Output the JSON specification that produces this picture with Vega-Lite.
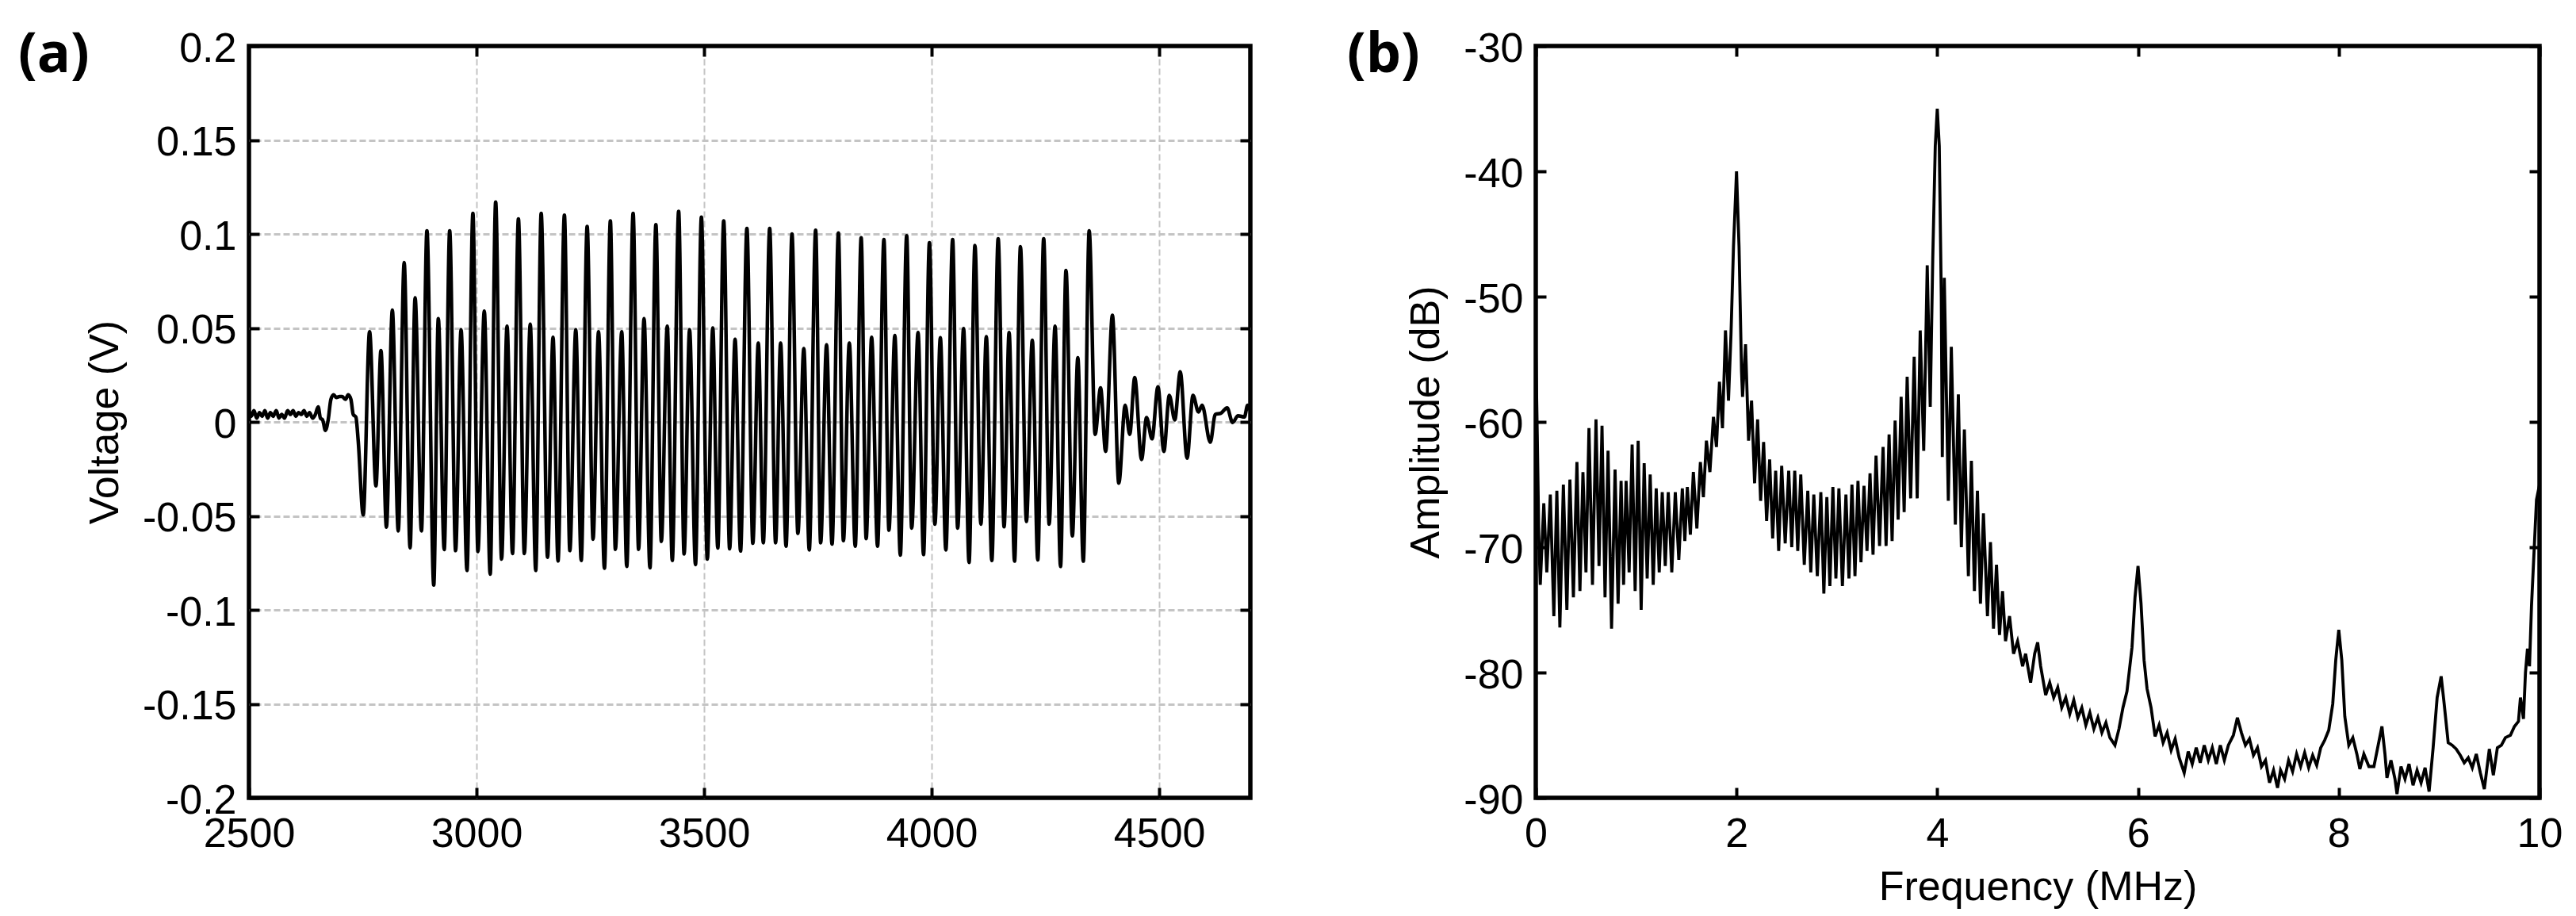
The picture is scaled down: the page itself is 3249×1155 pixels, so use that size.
{
  "$schema": "https://vega.github.io/schema/vega-lite/v6.json",
  "background": "white",
  "autosize": {"type": "pad"},
  "padding": {"left": 20, "top": 32, "right": 20, "bottom": 0},
  "bounds": "flush",
  "spacing": 360,
  "config": {
    "view": {"stroke": "black", "strokeWidth": 5.5},
    "font": "Liberation Sans",
    "axis": {
      "domain": false,
      "labelFont": "Liberation Sans",
      "labelFontSize": 52,
      "labelColor": "black",
      "titleFont": "Liberation Sans",
      "titleFontSize": 52,
      "titleFontWeight": "normal",
      "titleColor": "black",
      "tickColor": "black",
      "tickSize": -13,
      "tickWidth": 4,
      "labelPadding": 29,
      "labelFlush": false,
      "labelOverlap": false,
      "labelBound": false,
      "grid": false
    },
    "axisX": {"labelPadding": 33},
    "title": {"font": "Open Sans", "fontSize": 70, "fontWeight": "bold", "color": "black"}
  },
  "datasets": {
    "wave": [
      {"t":2500,"v":0.006},{"t":2505,"v":0.003},{"t":2511,"v":0.006},{"t":2517,"v":0.002},{"t":2523,"v":0.005},{"t":2529,"v":0.003},{"t":2535,"v":0.006},{"t":2541,"v":0.002},{"t":2547,"v":0.005},{"t":2553,"v":0.003},{"t":2560,"v":0.006},{"t":2566,"v":0.002},{"t":2572,"v":0.004},{"t":2578,"v":0.002},{"t":2585,"v":0.006},{"t":2591,"v":0.004},{"t":2597,"v":0.006},{"t":2603,"v":0.003},{"t":2609,"v":0.005},{"t":2615,"v":0.004},{"t":2621,"v":0.006},{"t":2627,"v":0.003},{"t":2633,"v":0.005},{"t":2640,"v":0.002},{"t":2646,"v":0.004},{"t":2652,"v":0.008},{"t":2657,"v":0.002},{"t":2662,"v":0.001},{"t":2668,"v":-0.0045},{"t":2674,"v":0.001},{"t":2680,"v":0.012},{"t":2686,"v":0.0145},{"t":2692,"v":0.013},{"t":2699,"v":0.0135},{"t":2705,"v":0.0135},{"t":2712,"v":0.012},{"t":2718,"v":0.0145},{"t":2724,"v":0.012},{"t":2729,"v":0.004},{"t":2735,"v":0.0025},{"t":2740,"v":-0.01},
      {"t":2751,"v":-0.0495},{"t":2765,"v":0.048},{"t":2779,"v":-0.034},{"t":2790,"v":0.038},{"t":2802,"v":-0.056},{"t":2815,"v":0.0595},{"t":2828,"v":-0.058},{"t":2841,"v":0.0848},{"t":2854,"v":-0.067},{"t":2865,"v":0.066},{"t":2879,"v":-0.058},{"t":2891,"v":0.1017},{"t":2906,"v":-0.0868},{"t":2916,"v":0.055},{"t":2929,"v":-0.0679},{"t":2941,"v":0.1017},{"t":2954,"v":-0.0685},{"t":2966,"v":0.049},{"t":2979,"v":-0.079},{"t":2992,"v":0.111},{"t":3003,"v":-0.069},{"t":3017,"v":0.059},{"t":3030,"v":-0.081},{"t":3042,"v":0.117},{"t":3055,"v":-0.073},{"t":3067,"v":0.051},{"t":3079,"v":-0.07},{"t":3092,"v":0.108},{"t":3105,"v":-0.07},{"t":3118,"v":0.052},{"t":3130,"v":-0.079},{"t":3142,"v":0.111},{"t":3156,"v":-0.072},{"t":3168,"v":0.045},{"t":3179,"v":-0.074},
      {"t":3193,"v":0.11},{"t":3205,"v":-0.0685},{"t":3218,"v":0.049},{"t":3230,"v":-0.0737},{"t":3243,"v":0.104},{"t":3256,"v":-0.0624},{"t":3268,"v":0.048},{"t":3281,"v":-0.0779},{"t":3294,"v":0.107},{"t":3305,"v":-0.0678},{"t":3319,"v":0.048},{"t":3330,"v":-0.0769},{"t":3344,"v":0.111},{"t":3356,"v":-0.0678},{"t":3368,"v":0.055},{"t":3381,"v":-0.0776},{"t":3394,"v":0.105},{"t":3406,"v":-0.0636},{"t":3419,"v":0.051},{"t":3430,"v":-0.0737},{"t":3444,"v":0.112},{"t":3456,"v":-0.0703},{"t":3468,"v":0.049},{"t":3481,"v":-0.0759},{"t":3494,"v":0.109},{"t":3507,"v":-0.073},{"t":3519,"v":0.05},{"t":3530,"v":-0.0671},{"t":3543,"v":0.107},{"t":3556,"v":-0.0675},{"t":3568,"v":0.044},{"t":3580,"v":-0.0687},{"t":3594,"v":0.103},{"t":3607,"v":-0.0646},{"t":3619,"v":0.042},{"t":3630,"v":-0.0643},{"t":3644,"v":0.103},{"t":3657,"v":-0.0643},{"t":3668,"v":0.042},{"t":3680,"v":-0.0661},{"t":3693,"v":0.1},{"t":3706,"v":-0.0593},{"t":3719,"v":0.039},{"t":3731,"v":-0.0681},{"t":3745,"v":0.102},{"t":3756,"v":-0.0643},{"t":3769,"v":0.041},{"t":3781,"v":-0.065},{"t":3795,"v":0.1005},{"t":3806,"v":-0.0632},{"t":3819,"v":0.042},{"t":3832,"v":-0.0661},{"t":3845,"v":0.098},{"t":3856,"v":-0.0621},{"t":3868,"v":0.045},{"t":3881,"v":-0.0661},{"t":3895,"v":0.097},{"t":3906,"v":-0.0576},{"t":3919,"v":0.046},{"t":3931,"v":-0.0709},{"t":3945,"v":0.099},{"t":3956,"v":-0.0565},
      {"t":3970,"v":0.0476},{"t":3982,"v":-0.0706},{"t":3995,"v":0.0954},{"t":4007,"v":-0.0544},{"t":4019,"v":0.0448},{"t":4031,"v":-0.0681},{"t":4046,"v":0.097},{"t":4057,"v":-0.0565},{"t":4070,"v":0.0497},{"t":4082,"v":-0.0748},{"t":4095,"v":0.0939},{"t":4108,"v":-0.0544},{"t":4120,"v":0.0454},{"t":4132,"v":-0.0737},{"t":4146,"v":0.0975},{"t":4159,"v":-0.0558},{"t":4170,"v":0.0476},{"t":4182,"v":-0.0741},{"t":4195,"v":0.0933},{"t":4208,"v":-0.053},{"t":4221,"v":0.0435},{"t":4233,"v":-0.0734},{"t":4246,"v":0.0975},{"t":4258,"v":-0.0544},{"t":4271,"v":0.051},{"t":4283,"v":-0.0769},{"t":4295,"v":0.0806},{"t":4309,"v":-0.0607},{"t":4321,"v":0.0342},{"t":4333,"v":-0.0741},{"t":4346,"v":0.1017},
      {"t":4359,"v":-0.0066},{"t":4371,"v":0.0181},{"t":4382,"v":-0.0157},{"t":4397,"v":0.0567},{"t":4411,"v":-0.0326},{"t":4425,"v":0.0089},{"t":4435,"v":-0.0066},{"t":4446,"v":0.0236},{"t":4461,"v":-0.02},{"t":4472,"v":0.0023},{"t":4484,"v":-0.009},{"t":4497,"v":0.0187},{"t":4510,"v":-0.0157},{"t":4522,"v":0.0141},{"t":4534,"v":0.0011},{"t":4546,"v":0.0267},{"t":4561,"v":-0.0193},{"t":4574,"v":0.0141},{"t":4586,"v":0.0053},{"t":4594,"v":0.0089},{"t":4612,"v":-0.0108},{"t":4623,"v":0.004},{"t":4635,"v":0.0046},{"t":4649,"v":0.0075},{"t":4661,"v":-0.0003},{"t":4673,"v":0.0033},{"t":4687,"v":0.0026},{"t":4694,"v":0.0089},{"t":4700,"v":0.006}
    ],
    "spec": [
      {"f":0,"a":-54},{"f":0.015,"a":-61},{"f":0.03,"a":-69},{"f":0.045,"a":-73},{"f":0.08,"a":-66.5},{"f":0.11,"a":-72},{"f":0.145,"a":-65.8},{"f":0.18,"a":-75.5},{"f":0.21,"a":-65.5},{"f":0.24,"a":-76.4},{"f":0.275,"a":-65},{"f":0.31,"a":-75},{"f":0.34,"a":-64.6},{"f":0.375,"a":-74},{"f":0.41,"a":-63.2},{"f":0.44,"a":-73.5},{"f":0.47,"a":-64},{"f":0.5,"a":-72},{"f":0.53,"a":-60.5},{"f":0.565,"a":-73},{"f":0.6,"a":-59.8},{"f":0.63,"a":-71.5},{"f":0.66,"a":-60.3},{"f":0.69,"a":-74},{"f":0.72,"a":-62.3},{"f":0.755,"a":-76.5},{"f":0.79,"a":-63.8},{"f":0.82,"a":-74.5},{"f":0.85,"a":-64.7},{"f":0.875,"a":-73},{"f":0.9,"a":-64.7},{"f":0.93,"a":-72},{"f":0.96,"a":-61.8},{"f":0.99,"a":-73.5},{"f":1.02,"a":-61.5},{"f":1.05,"a":-75},{"f":1.08,"a":-63.3},{"f":1.11,"a":-72.5},{"f":1.14,"a":-64.2},{"f":1.17,"a":-73},{"f":1.2,"a":-65.3},{"f":1.23,"a":-72},{"f":1.26,"a":-65.6},{"f":1.29,"a":-71.5},{"f":1.32,"a":-65.6},{"f":1.355,"a":-72},{"f":1.39,"a":-65.6},{"f":1.425,"a":-71},{"f":1.46,"a":-65.3},{"f":1.485,"a":-69.5},{"f":1.51,"a":-65.2},{"f":1.54,"a":-69},{"f":1.57,"a":-64},{"f":1.605,"a":-68.5},{"f":1.64,"a":-63.2},{"f":1.67,"a":-66},{"f":1.7,"a":-61.5},{"f":1.735,"a":-64},{"f":1.77,"a":-59.6},{"f":1.8,"a":-62},{"f":1.83,"a":-56.8},{"f":1.86,"a":-60.5},{"f":1.89,"a":-52.7},{"f":1.92,"a":-58.3},{"f":1.945,"a":-53},{"f":1.97,"a":-46},{"f":2,"a":-40},{"f":2.025,"a":-46},{"f":2.05,"a":-56},{"f":2.06,"a":-58},
      {"f":2.09,"a":-53.8},{"f":2.12,"a":-61.5},{"f":2.15,"a":-58.3},{"f":2.18,"a":-64.9},{"f":2.21,"a":-59.8},{"f":2.24,"a":-66.3},{"f":2.27,"a":-61.6},{"f":2.3,"a":-67.9},{"f":2.33,"a":-63},{"f":2.36,"a":-69.3},{"f":2.39,"a":-63.9},{"f":2.42,"a":-70.3},{"f":2.45,"a":-63.5},{"f":2.485,"a":-69.7},{"f":2.52,"a":-63.9},{"f":2.55,"a":-70},{"f":2.58,"a":-63.9},{"f":2.61,"a":-70.3},{"f":2.64,"a":-64.2},{"f":2.675,"a":-71.4},{"f":2.71,"a":-65.5},{"f":2.74,"a":-72},{"f":2.77,"a":-65.8},{"f":2.805,"a":-72.3},{"f":2.84,"a":-65.6},{"f":2.87,"a":-73.7},{"f":2.9,"a":-66},{"f":2.93,"a":-73.1},{"f":2.96,"a":-65.2},{"f":2.99,"a":-72.5},{"f":3.02,"a":-65.3},{"f":3.055,"a":-73.1},{"f":3.09,"a":-65.8},{"f":3.12,"a":-72.5},{"f":3.15,"a":-65},{"f":3.18,"a":-72.3},{"f":3.21,"a":-64.7},{"f":3.24,"a":-71.2},{"f":3.27,"a":-65.1},{"f":3.3,"a":-70.3},{"f":3.33,"a":-64.1},{"f":3.36,"a":-70.6},{"f":3.39,"a":-62.7},{"f":3.425,"a":-69.9},{"f":3.46,"a":-62},{"f":3.49,"a":-69.9},{"f":3.52,"a":-61},{"f":3.55,"a":-69.5},{"f":3.58,"a":-59.9},{"f":3.61,"a":-67.8},{"f":3.64,"a":-58},{"f":3.67,"a":-67.2},{"f":3.7,"a":-56.4},{"f":3.735,"a":-66.1},{"f":3.77,"a":-54.8},{"f":3.8,"a":-66.1},{"f":3.83,"a":-52.7},{"f":3.865,"a":-62.3},{"f":3.9,"a":-47.5},{"f":3.93,"a":-58.8},{"f":3.955,"a":-47},{"f":3.98,"a":-38},{"f":4,"a":-35},{"f":4.02,"a":-38},{"f":4.04,"a":-50},{"f":4.05,"a":-62.8},
      {"f":4.07,"a":-48.5},{"f":4.11,"a":-66.3},{"f":4.14,"a":-54},{"f":4.18,"a":-68.2},{"f":4.21,"a":-57.8},{"f":4.24,"a":-70},{"f":4.27,"a":-60.6},{"f":4.31,"a":-72.3},{"f":4.34,"a":-63.1},{"f":4.37,"a":-73.5},{"f":4.4,"a":-65.5},{"f":4.43,"a":-74.5},{"f":4.46,"a":-67.3},{"f":4.5,"a":-75.5},{"f":4.53,"a":-69.6},{"f":4.56,"a":-76.5},{"f":4.59,"a":-71.4},{"f":4.62,"a":-77},{"f":4.65,"a":-73.5},{"f":4.68,"a":-77.5},{"f":4.72,"a":-75.5},{"f":4.76,"a":-78.5},{"f":4.8,"a":-77.5},{"f":4.85,"a":-79.5},{"f":4.88,"a":-78.5},{"f":4.93,"a":-80.8},{"f":4.97,"a":-78.5},{"f":5,"a":-77.6},{"f":5.03,"a":-79.5},{"f":5.08,"a":-81.8},{"f":5.12,"a":-80.8},{"f":5.16,"a":-82},{"f":5.2,"a":-81.2},{"f":5.24,"a":-82.8},{"f":5.28,"a":-82},{"f":5.32,"a":-83.3},{"f":5.36,"a":-82.2},{"f":5.4,"a":-83.6},{"f":5.44,"a":-82.8},{"f":5.48,"a":-84.2},{"f":5.52,"a":-83.2},{"f":5.56,"a":-84.5},{"f":5.6,"a":-83.6},{"f":5.64,"a":-84.8},{"f":5.68,"a":-84},{"f":5.72,"a":-85.2},{"f":5.77,"a":-85.8},{"f":5.81,"a":-84.5},{"f":5.85,"a":-82.8},{"f":5.89,"a":-81.5},{"f":5.94,"a":-78},{"f":5.97,"a":-74},{"f":6,"a":-71.5},{"f":6.03,"a":-74.5},{"f":6.06,"a":-79},{"f":6.09,"a":-81.3},{"f":6.13,"a":-82.8},{"f":6.17,"a":-85.1},{"f":6.21,"a":-84.2},{"f":6.25,"a":-85.6},{"f":6.29,"a":-84.8},{"f":6.33,"a":-86.2},{"f":6.37,"a":-85.3},{"f":6.41,"a":-86.8},{"f":6.46,"a":-88},{"f":6.5,"a":-86.3},{"f":6.54,"a":-87.3},{"f":6.58,"a":-86},{"f":6.62,"a":-87.2},{"f":6.66,"a":-85.8},{"f":6.7,"a":-87},{"f":6.74,"a":-86},{"f":6.78,"a":-87.3},{"f":6.82,"a":-85.8},{"f":6.86,"a":-87},{"f":6.9,"a":-85.8},{"f":6.95,"a":-85},{"f":6.99,"a":-83.6},{"f":7.03,"a":-84.8},{"f":7.07,"a":-85.8},{"f":7.11,"a":-85.3},{"f":7.15,"a":-86.6},{"f":7.19,"a":-86},{"f":7.23,"a":-87.5},{"f":7.27,"a":-87},{"f":7.31,"a":-88.8},{"f":7.35,"a":-87.8},{"f":7.39,"a":-89.2},{"f":7.42,"a":-87.8},{"f":7.46,"a":-88.5},{"f":7.5,"a":-87},{"f":7.54,"a":-87.9},{"f":7.58,"a":-86.5},{"f":7.62,"a":-87.5},{"f":7.66,"a":-86.4},{"f":7.7,"a":-87.6},{"f":7.74,"a":-86.6},{"f":7.78,"a":-87.4},{"f":7.82,"a":-86},{"f":7.86,"a":-85.4},{"f":7.9,"a":-84.6},{"f":7.94,"a":-82.5},{"f":7.97,"a":-79},{"f":8,"a":-76.6},{"f":8.03,"a":-79},{"f":8.06,"a":-83.5},{"f":8.1,"a":-85.8},{"f":8.14,"a":-85.2},{"f":8.18,"a":-86.5},{"f":8.21,"a":-87.7},{"f":8.25,"a":-86.5},{"f":8.3,"a":-87.5},{"f":8.35,"a":-87.5},{"f":8.4,"a":-85.5},{"f":8.43,"a":-84.3},{"f":8.46,"a":-86.5},{"f":8.48,"a":-88.4},{"f":8.52,"a":-87},{"f":8.56,"a":-88.5},{"f":8.58,"a":-89.7},{"f":8.62,"a":-87.5},{"f":8.66,"a":-88.5},{"f":8.7,"a":-87.3},{"f":8.74,"a":-89},{"f":8.78,"a":-87.8},{"f":8.82,"a":-88.8},{"f":8.86,"a":-87.6},{"f":8.9,"a":-89.5},{"f":8.94,"a":-86},{"f":8.98,"a":-82},{"f":9.02,"a":-80.3},{"f":9.05,"a":-82.5},{"f":9.09,"a":-85.6},{"f":9.13,"a":-85.8},{"f":9.17,"a":-86.1},{"f":9.21,"a":-86.6},{"f":9.25,"a":-87.2},{"f":9.29,"a":-86.8},{"f":9.33,"a":-87.6},{"f":9.37,"a":-86.5},{"f":9.41,"a":-88},{"f":9.45,"a":-89.3},{"f":9.5,"a":-86.1},{"f":9.54,"a":-88.2},{"f":9.58,"a":-86},{"f":9.62,"a":-85.8},{"f":9.66,"a":-85.2},{"f":9.71,"a":-85},{"f":9.75,"a":-84.3},{"f":9.79,"a":-83.9},{"f":9.81,"a":-82},{"f":9.84,"a":-83.7},{"f":9.86,"a":-80},{"f":9.88,"a":-78.1},{"f":9.9,"a":-79.5},{"f":9.92,"a":-74.7},{"f":9.95,"a":-69.6},{"f":9.97,"a":-66.2},{"f":10,"a":-65}
    ]
  },
  "hconcat": [
    {
      "width": 1263,
      "height": 948,
      "title": {"text": "(a)", "anchor": "start", "frame": "group", "orient": "top", "offset": -68, "dx": -291, "dy": 3, "baseline": "top", "align": "left"},
      "data": {"name": "wave"},
      "layer": [
        {
          "mark": {"type": "line", "color": "black", "strokeWidth": 4.5, "interpolate": "monotone", "clip": true},
          "encoding": {
            "x": {"field": "t", "type": "quantitative",
                  "scale": {"domain": [2500, 4700], "nice": false, "zero": false},
                  "axis": {"orient": "bottom", "title": null, "values": [2500, 3000, 3500, 4000, 4500], "labelExpr": "'' + datum.value"}},
            "y": {"field": "v", "type": "quantitative",
                  "scale": {"domain": [-0.2, 0.2], "nice": false, "zero": false},
                  "axis": {"orient": "left", "title": "Voltage (V)", "titlePadding": 20, "labelOffset": 3,
                           "values": [-0.2, -0.15, -0.1, -0.05, 0, 0.05, 0.1, 0.15, 0.2], "labelExpr": "'' + datum.value"}}
          }
        },
        {
          "mark": {"type": "line", "strokeOpacity": 0},
          "encoding": {
            "x": {"field": "t", "type": "quantitative",
                  "axis": {"orient": "top", "title": null, "labels": false, "values": [3000, 3500, 4000, 4500],
                           "grid": true, "gridColor": "#c4c4c4", "gridWidth": 2, "gridDash": [8, 4]}},
            "y": {"field": "v", "type": "quantitative",
                  "axis": {"orient": "right", "title": null, "labels": false, "values": [-0.15, -0.1, -0.05, 0, 0.05, 0.1, 0.15],
                           "grid": true, "gridColor": "#c4c4c4", "gridWidth": 3, "gridDash": [8, 4]}}
          }
        }
      ],
      "resolve": {"axis": {"x": "independent", "y": "independent"}}
    },
    {
      "width": 1266,
      "height": 948,
      "title": {"text": "(b)", "anchor": "start", "frame": "group", "orient": "top", "offset": -68, "dx": -238, "dy": 3, "baseline": "top", "align": "left"},
      "data": {"name": "spec"},
      "layer": [
        {
          "mark": {"type": "line", "color": "black", "strokeWidth": 3.8, "clip": true},
          "encoding": {
            "x": {"field": "f", "type": "quantitative",
                  "scale": {"domain": [0, 10], "nice": false},
                  "axis": {"orient": "bottom", "title": "Frequency (MHz)", "titlePadding": 16, "values": [0, 2, 4, 6, 8, 10], "labelExpr": "'' + datum.value"}},
            "y": {"field": "a", "type": "quantitative",
                  "scale": {"domain": [-90, -30], "nice": false, "zero": false},
                  "axis": {"orient": "left", "title": "Amplitude (dB)", "titlePadding": 20, "labelOffset": 3,
                           "values": [-90, -80, -70, -60, -50, -40, -30], "labelExpr": "'' + datum.value"}}
          }
        },
        {
          "mark": {"type": "line", "strokeOpacity": 0},
          "encoding": {
            "x": {"field": "f", "type": "quantitative",
                  "axis": {"orient": "top", "title": null, "labels": false, "values": [0, 2, 4, 6, 8, 10]}},
            "y": {"field": "a", "type": "quantitative",
                  "axis": {"orient": "right", "title": null, "labels": false, "values": [-90, -80, -70, -60, -50, -40, -30]}}
          }
        }
      ],
      "resolve": {"axis": {"x": "independent", "y": "independent"}}
    }
  ]
}
